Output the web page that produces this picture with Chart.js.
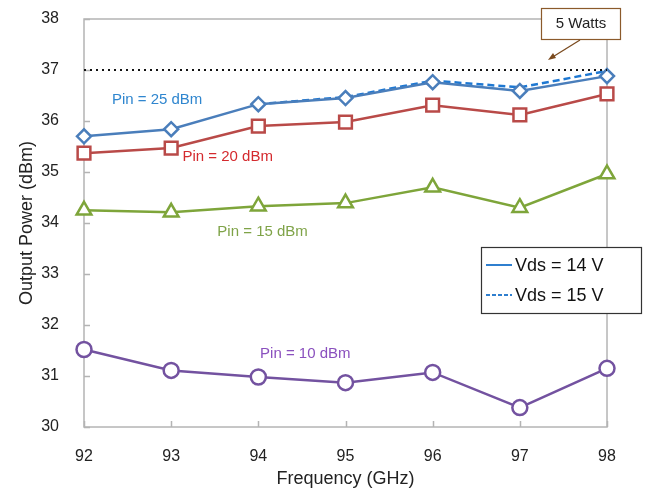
<!DOCTYPE html>
<html>
<head>
<meta charset="utf-8">
<script src="https://cdn.jsdelivr.net/npm/chart.js@4"></script>
<style>
  html, body { margin: 0; padding: 0; background: #fff; }
  #wrap { width: 655px; height: 495px; }
</style>
</head>
<body>
<div id="wrap"><canvas id="powerChart" width="655" height="495"></canvas></div>
<script>
const freqs = [92, 93, 94, 95, 96, 97, 98];
const pin25Vds14 = [35.70, 35.84, 36.33, 36.45, 36.76, 36.59, 36.88];
const pin25Vds15 = [null, null, 36.33, 36.47, 36.79, 36.66, 36.98];
const pin20 = [35.37, 35.47, 35.90, 35.98, 36.31, 36.12, 36.53];
const pin15 = [34.25, 34.21, 34.33, 34.39, 34.70, 34.30, 34.96];
const pin10 = [31.52, 31.11, 30.98, 30.87, 31.07, 30.38, 31.15];
const limitLine = [37, 37, 37, 37, 37, 37, 37];
const yTicks = [30, 31, 32, 33, 34, 35, 36, 37, 38];

const FONT = "'Liberation Sans', Arial, sans-serif";
const toXY = arr => arr.map((v, i) => ({ x: freqs[i], y: v }));

function series(label, data, color, style, radius, extra) {
  return Object.assign({
    label: label,
    data: toXY(data),
    borderColor: color,
    borderWidth: 2.5,
    pointStyle: style,
    pointRadius: radius,
    pointBorderWidth: 2.5,
    pointBackgroundColor: "#fff",
    pointBorderColor: color,
    tension: 0,
    clip: false
  }, extra || {});
}

// text labels next to the curves, placed in data units
const curveLabels = [
  { text: "Pin = 25 dBm", x: 92.32, y: 36.41, color: "#2F86CF" },
  { text: "Pin = 20 dBm", x: 93.13, y: 35.29, color: "#D42A2E" },
  { text: "Pin = 15 dBm", x: 93.53, y: 33.82, color: "#7FA348" },
  { text: "Pin = 10 dBm", x: 94.02, y: 31.43, color: "#8A50BE" }
];

const framePlugin = {
  id: "frame",
  beforeDatasetsDraw(chart) {
    const { ctx, chartArea: a, scales: { x, y } } = chart;
    ctx.save();
    ctx.strokeStyle = "#b4b4b4";
    ctx.lineWidth = 1.5;
    ctx.strokeRect(a.left, a.top, a.right - a.left, a.bottom - a.top);
    // inside ticks
    ctx.beginPath();
    yTicks.forEach(v => {
      const py = Math.round(y.getPixelForValue(v)) + 0.5;
      ctx.moveTo(a.left, py); ctx.lineTo(a.left + 6, py);
    });
    freqs.forEach(v => {
      const px = Math.round(x.getPixelForValue(v)) + 0.5;
      ctx.moveTo(px, a.bottom); ctx.lineTo(px, a.bottom - 6);
    });
    ctx.stroke();
    ctx.restore();
  },
  afterDatasetsDraw(chart) {
    const { ctx, scales: { x, y } } = chart;
    ctx.save();
    // curve labels
    ctx.font = "15px " + FONT;
    ctx.textBaseline = "middle";
    ctx.textAlign = "left";
    curveLabels.forEach(l => {
      ctx.fillStyle = l.color;
      ctx.fillText(l.text, x.getPixelForValue(l.x), y.getPixelForValue(l.y));
    });

    // 5 Watts callout
    ctx.fillStyle = "#fff";
    ctx.fillRect(541, 8, 79, 31);
    ctx.strokeStyle = "#8B5A2B";
    ctx.lineWidth = 1.2;
    ctx.strokeRect(541.5, 8.5, 79, 31);
    ctx.fillStyle = "#222";
    ctx.font = "15px " + FONT;
    ctx.textAlign = "center";
    ctx.fillText("5 Watts", 581, 24);
    ctx.strokeStyle = "#7A4A1E";
    ctx.lineWidth = 1.3;
    ctx.beginPath();
    ctx.moveTo(580, 40); ctx.lineTo(551, 58);
    ctx.stroke();
    ctx.fillStyle = "#7A4A1E";
    ctx.beginPath();
    ctx.moveTo(548, 60); ctx.lineTo(553, 53); ctx.lineTo(556, 58);
    ctx.closePath(); ctx.fill();

    // legend
    ctx.fillStyle = "#fff";
    ctx.fillRect(481, 247, 160, 66);
    ctx.strokeStyle = "#333";
    ctx.lineWidth = 1.2;
    ctx.strokeRect(481.5, 247.5, 160, 66);
    ctx.font = "18px " + FONT;
    ctx.textAlign = "left";
    ctx.fillStyle = "#111";
    ctx.lineWidth = 2;
    ctx.strokeStyle = "#2F7FCF";
    ctx.beginPath(); ctx.moveTo(486, 265); ctx.lineTo(512, 265); ctx.stroke();
    ctx.setLineDash([4, 2]);
    ctx.beginPath(); ctx.moveTo(486, 295); ctx.lineTo(512, 295); ctx.stroke();
    ctx.setLineDash([]);
    ctx.fillText("Vds = 14 V", 515, 266);
    ctx.fillText("Vds = 15 V", 515, 296);
    ctx.restore();
  }
};

new Chart(document.getElementById("powerChart"), {
  type: "line",
  data: {
    datasets: [
      series("5 Watts", limitLine, "#111", "circle", 0, { borderWidth: 2, borderDash: [2, 4] }),
      series("Pin = 10 dBm", pin10, "#7352A0", "circle", 7.5),
      series("Pin = 15 dBm", pin15, "#7EA53A", "triangle", 8.5),
      series("Pin = 20 dBm", pin20, "#B94A48", "rect", 9),
      series("Pin = 25 dBm, Vds = 14 V", pin25Vds14, "#4A7EBB", "rectRot", 7),
      series("Pin = 25 dBm, Vds = 15 V", pin25Vds15, "#1E78D2", "circle", 0, { borderDash: [7, 4], spanGaps: false })
    ]
  },
  options: {
    responsive: false,
    animation: false,
    layout: { padding: { left: 0, top: 19, right: 48, bottom: 0 } },
    plugins: { legend: { display: false }, tooltip: { enabled: false } },
    scales: {
      x: {
        type: "linear",
        min: 92, max: 98,
        afterFit: s => { s.height = 68; s.paddingLeft = 0; s.paddingRight = 0; },
        afterBuildTicks: s => { s.ticks = freqs.map(v => ({ value: v })); },
        grid: { display: false },
        border: { display: false },
        ticks: { font: { family: FONT, size: 16 }, color: "#222", padding: 12, maxRotation: 0 },
        title: { display: true, text: "Frequency (GHz)", font: { family: FONT, size: 18 }, color: "#222", padding: { top: 0, bottom: 5 } }
      },
      y: {
        min: 30, max: 38,
        afterFit: s => { s.width = 84; s.paddingTop = 0; s.paddingBottom = 0; },
        afterBuildTicks: s => { s.ticks = yTicks.map(v => ({ value: v })); },
        grid: { display: false },
        border: { display: false },
        ticks: { font: { family: FONT, size: 16 }, color: "#222", padding: 17 },
        title: { display: true, text: "Output Power (dBm)", font: { family: FONT, size: 18 }, color: "#222", padding: { top: 16, bottom: 0 } }
      }
    }
  },
  plugins: [framePlugin]
});
</script>
</body>
</html>
